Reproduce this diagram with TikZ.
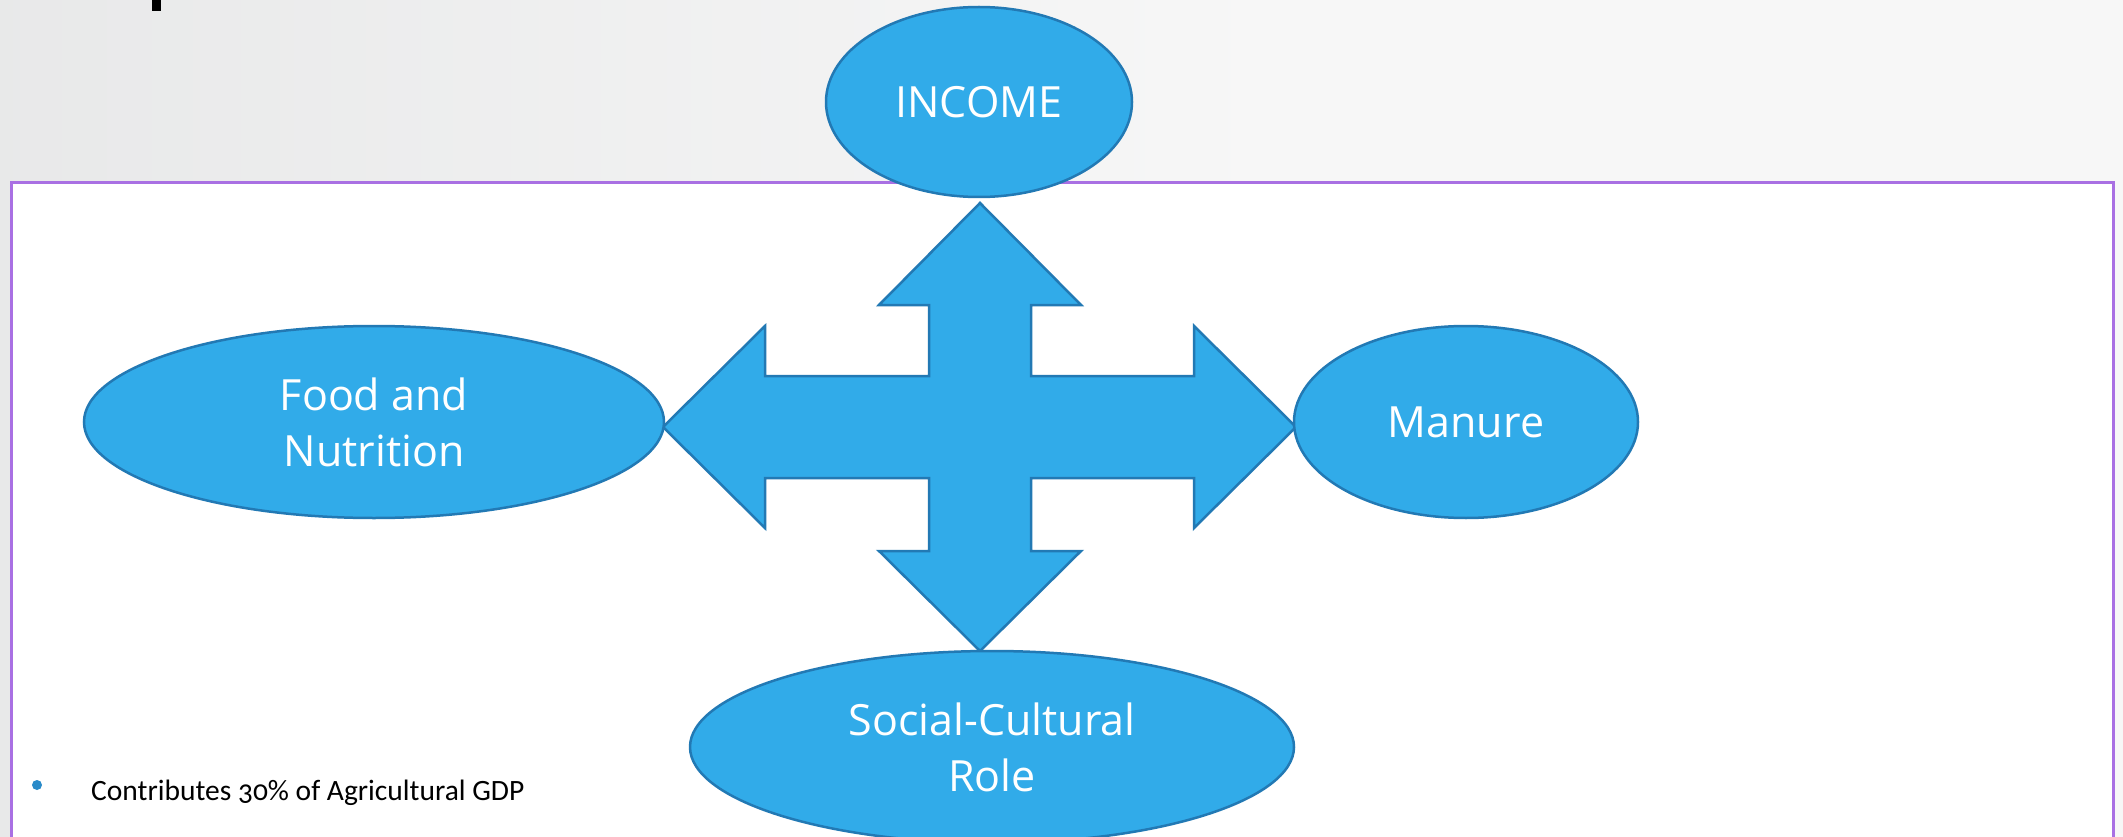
\documentclass[tikz,border=0pt]{standalone}
\usepackage{fontspec}
\usetikzlibrary{shapes.geometric}
\newfontfamily\osans{Open Sans}
\newfontfamily\carl[Numbers=OldStyle]{Carlito}
\definecolor{bgL}{HTML}{DCDDDE}
\definecolor{bgM}{HTML}{F7F7F7}
\definecolor{bgR}{HTML}{E4E5E5}
\definecolor{boxpurple}{HTML}{A970E3}
\definecolor{shapefill}{HTML}{31ABE9}
\definecolor{shapeline}{HTML}{2279B4}
\definecolor{bulletblue}{HTML}{2A8BC9}
\pgfdeclarehorizontalshading{bgsh}{100bp}{color(0bp)=(bgL); color(55bp)=(bgM); color(80bp)=(bgM); color(100bp)=(bgR)}
\tikzset{
  bubble/.style={ellipse, fill=shapefill, draw=shapeline, line width=2.5pt, inner sep=0pt,
    text=white, align=center, font={\osans\fontsize{43}{56}\selectfont}},
  crossarrow/.style={fill=shapefill, draw=shapeline, line width=2.5pt, line join=miter},
  frame/.style={draw=boxpurple, line width=3pt, fill=white}
}
\begin{document}
\begin{tikzpicture}[x=1pt, y=-1pt]
\useasboundingbox (0,0) rectangle (2123,837);
% background
\shade[shading=bgsh] (0,0) rectangle (2123,837);
% fragment of title
\fill[black] (152,0) rectangle (161,11);
% content frame
\path[frame] (11,183) rectangle (2113,860);
% cross arrow
\draw[crossarrow] (980,203) -- (1081,305) -- (1031,305) -- (1031,376) -- (1194,376) -- (1194,326)
  -- (1296,427) -- (1194,528) -- (1194,478) -- (1031,478) -- (1031,551) -- (1081,551)
  -- (980,651) -- (879,551) -- (929,551) -- (929,478) -- (765,478) -- (765,528)
  -- (663,427) -- (765,326) -- (765,376) -- (929,376) -- (929,305) -- (879,305) -- cycle;
% bubbles
\node[bubble, minimum width=306pt, minimum height=190pt] (income) at (979,102) {INCOME};
\node[bubble, minimum width=580pt, minimum height=192pt] (food) at (374,422) {Food and\\Nutrition};
\node[bubble, minimum width=344pt, minimum height=192pt] (manure) at (1466,422) {Manure};
\node[bubble, minimum width=604pt, minimum height=192pt] (social) at (992,747) {Social-Cultural\\Role};
% bullet
\fill[bulletblue] (37,785) circle (5);
\node[anchor=base west, inner sep=0pt, font={\carl\fontsize{29.5}{35}\selectfont}] (contrib) at (91,800) {Contributes 30\% of Agricultural GDP};
\end{tikzpicture}
\end{document}
